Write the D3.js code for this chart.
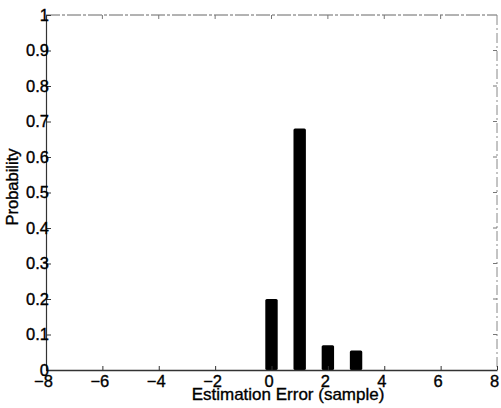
<!DOCTYPE html>
<html>
<head>
<meta charset="utf-8">
<script src="https://cdn.jsdelivr.net/npm/d3@7"></script>
<style>
  html, body { margin: 0; padding: 0; background: #fff; }
  svg text { font-family: "Liberation Sans", Arial, Helvetica, sans-serif; fill: #000; stroke: #000; stroke-width: 0.35px; }
</style>
</head>
<body>
<script>
// estimation error (samples) and probability of each
const errors = [0, 1, 2, 3];
const probs = [0.2, 0.68, 0.07, 0.055];
const xTicks = [-8, -6, -4, -2, 0, 2, 4, 6, 8];
const yTicks = [0, 0.1, 0.2, 0.3, 0.4, 0.5, 0.6, 0.7, 0.8, 0.9, 1];

const width = 501, height = 408;
const margin = { left: 46, right: 4, top: 15, bottom: 38 };

const svg = d3.select('body')
  .append('svg')
  .attr('width', width)
  .attr('height', height);

const x = d3.scaleLinear()
  .domain([-8, 8])
  .range([margin.left, width - margin.right]);
const y = d3.scaleLinear()
  .domain([0, 1])
  .range([height - margin.bottom, margin.top]);

const barW = x(0.44) - x(0);

// frame (top/right lighter, like the scan)
svg.append('line')
  .attr('x1', x(-8)).attr('x2', x(8))
  .attr('y1', y(1)).attr('y2', y(1))
  .attr('stroke', '#666').attr('stroke-dasharray', '14,2,3,2');
svg.append('line')
  .attr('x1', x(8)).attr('x2', x(8))
  .attr('y1', y(1)).attr('y2', y(0))
  .attr('stroke', '#888').attr('stroke-dasharray', '10,3,2,3');

svg.append('g')
  .selectAll('rect')
  .data(errors)
  .join('rect')
  .attr('x', (d) => x(d) - barW / 2)
  .attr('y', (d, i) => y(probs[i]))
  .attr('width', barW)
  .attr('height', (d, i) => y(0) - y(probs[i]))
  .attr('rx', 1.5)
  .attr('fill', '#000');

const xAxis = svg.append('g')
  .attr('transform', 'translate(0,' + y(0) + ')')
  .call(d3.axisBottom(x).tickValues(xTicks).tickSizeInner(-4).tickSizeOuter(0).tickPadding(5)
    .tickFormat(d3.format('d')));
xAxis.select('.domain').attr('stroke', '#333').attr('stroke-width', 1.3);
xAxis.selectAll('.tick line').attr('stroke', '#333');
xAxis.selectAll('text')
  .style('font-size', '16.5px')
  .attr('dx', -3);

const yAxis = svg.append('g')
  .attr('transform', 'translate(' + x(-8) + ',0)')
  .call(d3.axisLeft(y).tickValues(yTicks).tickSizeInner(-5).tickSizeOuter(0).tickPadding(-3)
    .tickFormat((d) => d === 0 || d === 1 ? String(d) : d3.format('.1f')(d)));
yAxis.select('.domain').attr('stroke', '#333').attr('stroke-width', 1.2);
yAxis.selectAll('.tick line').attr('stroke', '#333');
yAxis.selectAll('text')
  .style('font-size', '16.5px');

// right-side ticks
svg.append('g')
  .selectAll('line')
  .data(yTicks.slice(1, -1))
  .join('line')
  .attr('x1', x(8)).attr('x2', x(8) - 4)
  .attr('y1', (d) => y(d)).attr('y2', (d) => y(d))
  .attr('stroke', '#777');
// top ticks
svg.append('g')
  .selectAll('line')
  .data(xTicks.slice(1, -1))
  .join('line')
  .attr('x1', (d) => x(d)).attr('x2', (d) => x(d))
  .attr('y1', y(1)).attr('y2', y(1) + 4)
  .attr('stroke', '#777');

svg.append('text')
  .attr('x', 288)
  .attr('y', 400)
  .attr('text-anchor', 'middle')
  .style('font-size', '17px')
  .text('Estimation Error (sample)');

svg.append('text')
  .attr('transform', 'translate(18,187) rotate(-90)')
  .attr('text-anchor', 'middle')
  .style('font-size', '16.5px')
  .text('Probability');
</script>
</body>
</html>
